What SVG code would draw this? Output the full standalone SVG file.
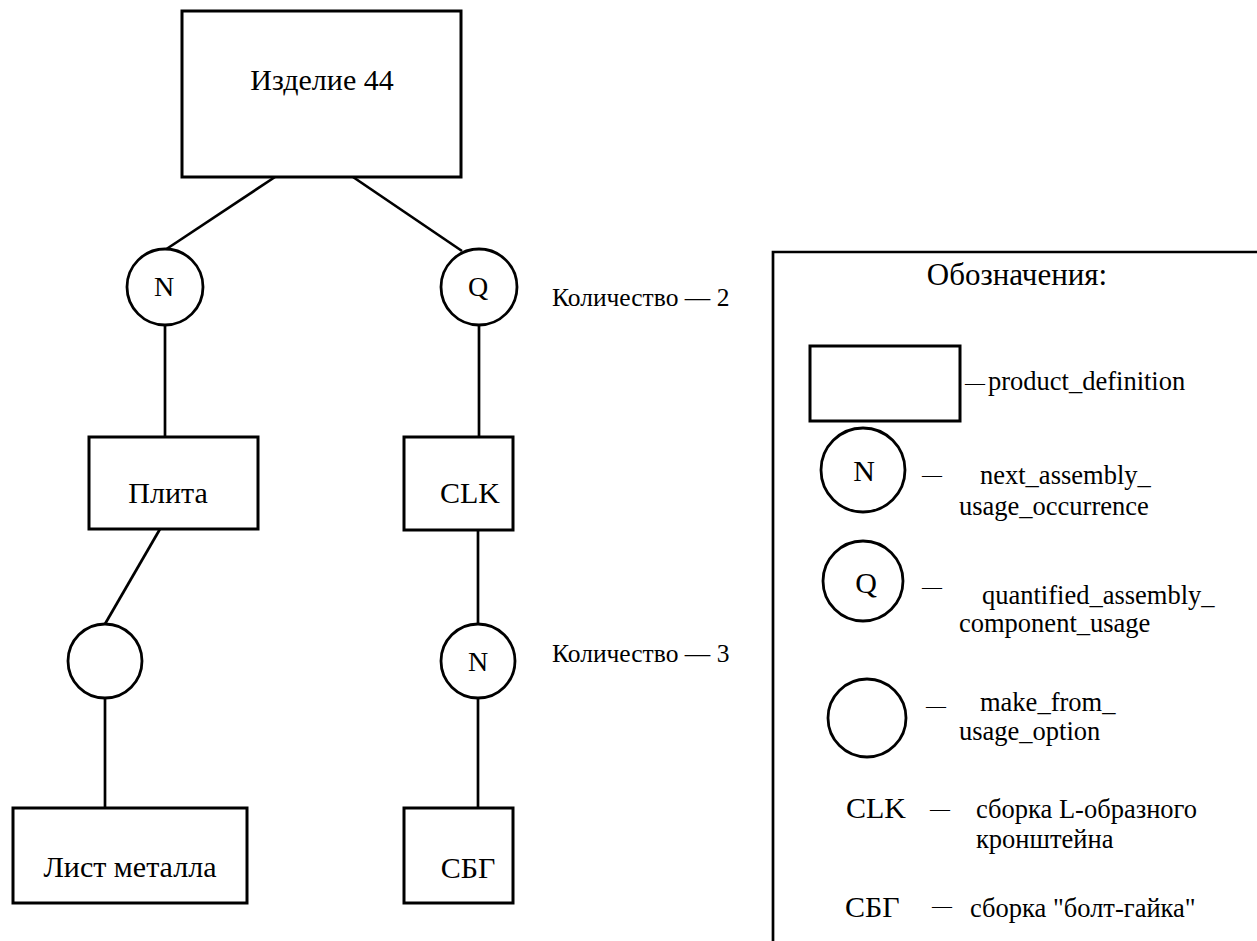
<svg xmlns="http://www.w3.org/2000/svg" width="1257" height="941" viewBox="0 0 1257 941">
<style>
.box{fill:none;stroke:#000;stroke-width:3}
.circ{fill:#fff;stroke:#000;stroke-width:2.8}
.ln{fill:none;stroke:#000;stroke-width:2.7}
text{font-family:"Liberation Serif","Times New Roman",serif;fill:#000}
.t30{font-size:30px}
.tq{font-size:25.5px}
.tl{font-size:26.5px}
.tc{font-size:28px}
.th{font-size:31px}
.dash{font-size:20px}
.mid{text-anchor:middle}
</style>
<rect width="1257" height="941" fill="#fff"/>
<g id="connectors">
<line class="ln" x1="275" y1="177" x2="165" y2="250"/>
<line class="ln" x1="353" y1="177" x2="462" y2="251"/>
<line class="ln" x1="165" y1="325" x2="165" y2="437"/>
<line class="ln" x1="479" y1="325" x2="479" y2="437"/>
<line class="ln" x1="160" y1="529" x2="105" y2="624"/>
<line class="ln" x1="105" y1="699" x2="105" y2="808"/>
<line class="ln" x1="478" y1="530" x2="478" y2="624"/>
<line class="ln" x1="478" y1="699" x2="478" y2="808"/>
</g>
<g id="n-izdelie">
<rect class="box" x="182" y="11" width="279" height="166"/>
<text class="t30 mid" x="322" y="90">Изделие 44</text>
</g>
<g id="n-N1">
<circle class="circ" cx="165" cy="287" r="38"/>
<text class="tc mid" x="164" y="296">N</text>
</g>
<g id="n-Q1">
<circle class="circ" cx="479" cy="287" r="38"/>
<text class="tc mid" x="478" y="296">Q</text>
</g>
<g id="n-qty2">
<text class="tq" x="552" y="306">Количество  — 2</text>
</g>
<g id="n-plita">
<rect class="box" x="89" y="437" width="169" height="92"/>
<text class="t30 mid" x="168" y="503">Плита</text>
</g>
<g id="n-clk">
<rect class="box" x="404" y="437" width="109" height="93"/>
<text class="t30 mid" x="470" y="503">CLK</text>
</g>
<g id="n-mfuo">
<circle class="circ" cx="105" cy="661" r="37"/>
</g>
<g id="n-N2">
<circle class="circ" cx="478" cy="661" r="37"/>
<text class="tc mid" x="478" y="671">N</text>
</g>
<g id="n-qty3">
<text class="tq" x="552" y="662">Количество  — 3</text>
</g>
<g id="n-list">
<rect class="box" x="13" y="808" width="234" height="95"/>
<text class="t30 mid" x="130" y="877">Лист металла</text>
</g>
<g id="n-sbg">
<rect class="box" x="404" y="808" width="109" height="95"/>
<text class="t30 mid" x="468" y="878">СБГ</text>
</g>
<g id="legend">
<path class="ln" d="M773,941 L773,252 L1257,252"/>
<text class="th mid" x="1017" y="285">Обозначения:</text>
<rect class="box" x="810" y="346" width="150" height="75"/>
<text class="dash" x="965" y="390">—</text>
<text class="tl" x="988" y="390">product_definition</text>
<circle class="circ" cx="863" cy="470" r="42"/>
<text class="t30 mid" x="864" y="481">N</text>
<text class="dash" x="922" y="482">—</text>
<text class="tl" x="980" y="484">next_assembly_</text>
<text class="tl" x="959" y="515">usage_occurrence</text>
<circle class="circ" cx="863" cy="581" r="40"/>
<text class="t30 mid" x="866" y="593">Q</text>
<text class="dash" x="922" y="594">—</text>
<text class="tl" x="982" y="604">quantified_assembly_</text>
<text class="tl" x="959" y="632">component_usage</text>
<circle class="circ" cx="867" cy="718" r="39"/>
<text class="dash" x="926" y="713">—</text>
<text class="tl" x="980" y="711">make_from_</text>
<text class="tl" x="959" y="740">usage_option</text>
<text class="t30" x="846" y="818">CLK</text>
<text class="dash" x="930" y="816">—</text>
<text class="tl" x="976" y="818">сборка L-образного</text>
<text class="tl" x="976" y="848">кронштейна</text>
<text class="t30" x="845" y="917">СБГ</text>
<text class="dash" x="932" y="913">—</text>
<text class="tl" x="970" y="917">сборка "болт-гайка"</text>
</g>
</svg>
